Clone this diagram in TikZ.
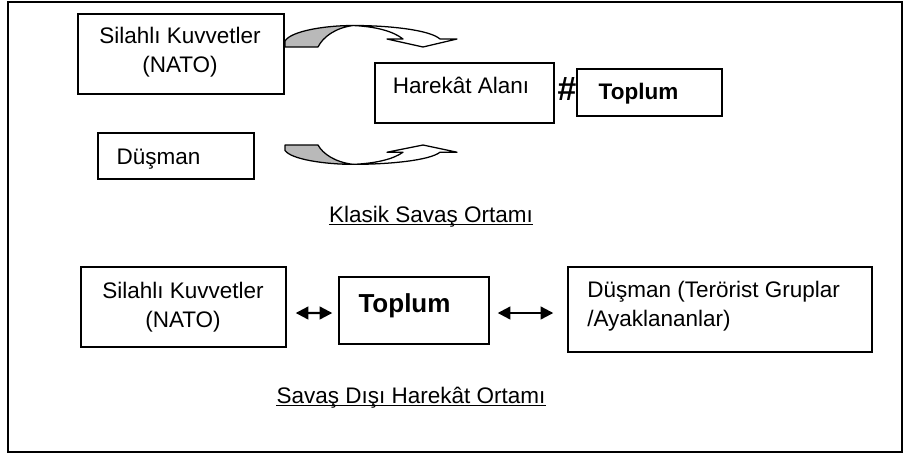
\documentclass[tikz,border=0pt]{standalone}
\usepackage{fontspec}
\setmainfont{Liberation Sans}
\usetikzlibrary{arrows.meta,calc}
\tikzset{
  box/.style 2 args={draw, line width=1pt, minimum width=#1*0.025cm, minimum height=#2*0.025cm, inner sep=0pt},
  txt/.style={inner sep=0pt, font=\fontsize{16}{20.6}\selectfont},
  dbl/.style={{Triangle[length=9pt,width=9pt]}-{Triangle[length=9pt,width=9pt]}, line width=1.6pt},
  band/.style={draw, line width=0.9pt, line join=round}
}
\newcommand\bentarrow{%
  \filldraw[band, fill=white] (68,-21.5) .. controls (105,-21.5) and (145,-17) .. (155,-8)
    -- (172,-8) -- (138,0) -- (102,-8) -- (118,-8)
    .. controls (108,-16) and (90,-20.5) .. (68,-21.5) -- cycle;
  \filldraw[band, fill=gray!55] (0,0) -- (0,-6) .. controls (6,-16) and (40,-21.5) .. (68,-21.5)
    .. controls (50,-19) and (38,-10) .. (33,0) -- cycle;}
\begin{document}
\begin{tikzpicture}[x=0.025cm, y=-0.025cm]
\useasboundingbox (0,0) rectangle (904,456);
\draw[line width=1.5pt] (8,2) rectangle (902,452);
\node[box={206}{80}] (sk1) at (181,54) {};
\node[box={179}{60}] (ha) at (464.5,93) {};
\node[box={145}{47}] (tp1) at (649.5,92.5) {};
\node[box={156}{46}] (ds1) at (176,156) {};
\node[txt, align=center, anchor=north] (sk1t) at (180,27) {Silahlı Kuvvetler\\(NATO)};
\node[txt, anchor=base] (hat) at (461,93) {Harekât Alanı};
\node[txt, anchor=base, font=\fontsize{16}{20.6}\selectfont\bfseries] (tp1t) at (638.5,99) {Toplum};
\node[txt, anchor=base, font=\fontsize{24}{26}\selectfont\bfseries] (hash) at (567,100) {\#};
\node[txt, anchor=base] (ds1t) at (158.5,164) {Düşman};
\begin{scope}[shift={(285,47)}]
\bentarrow
\end{scope}
\begin{scope}[shift={(285,145)}, yscale=-0.9]
\bentarrow
\end{scope}
\node[txt, anchor=base] (kso) at (431,222) {Klasik Savaş Ortamı};
\draw[line width=0.7pt] ([yshift=-2pt]kso.base west) -- ([yshift=-2pt]kso.base east);
\node[box={205}{80}] (sk2) at (183.5,307) {};
\node[box={150}{67}] (tp2) at (414,310.5) {};
\node[box={304}{85}] (ds2) at (720,309.5) {};
\node[txt, align=center, anchor=north] (sk2t) at (183,282) {Silahlı Kuvvetler\\(NATO)};
\node[txt, anchor=base, font=\fontsize{18.5}{22}\selectfont\bfseries] (tp2t) at (404.5,312) {Toplum};
\node[txt, align=left, anchor=north west] (ds2t) at (587,281) {Düşman (Terörist Gruplar\\/Ayaklananlar)};
\draw[dbl] ([shift={(9,6)}]sk2.east) -- ([shift={(-6,2.5)}]tp2.west);
\draw[dbl] ([shift={(8,2.5)}]tp2.east) -- ([shift={(-14,3.5)}]ds2.west);
\node[txt, anchor=base] (sdho) at (411,403) {Savaş Dışı Harekât Ortamı};
\draw[line width=0.7pt] ([yshift=-2pt]sdho.base west) -- ([yshift=-2pt]sdho.base east);
\end{tikzpicture}
\end{document}
